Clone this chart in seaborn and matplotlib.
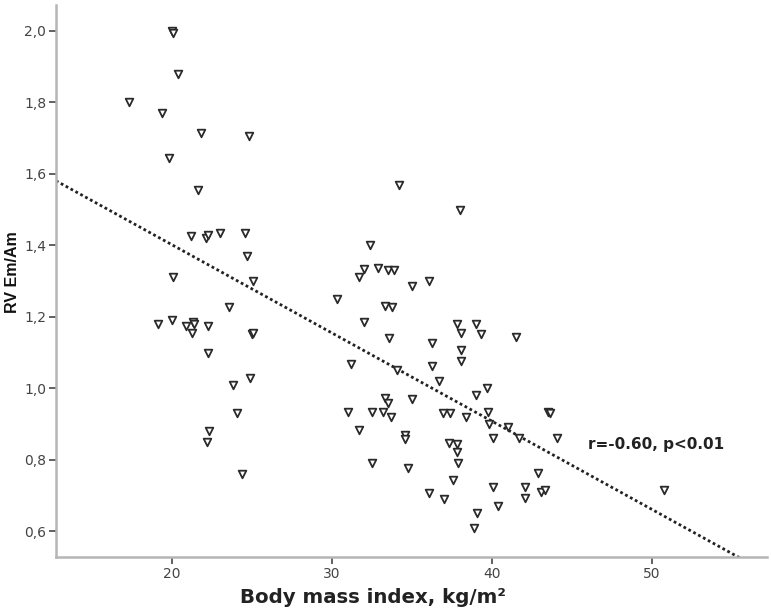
import numpy as np
import pandas as pd
import matplotlib
matplotlib.use("Agg")
import matplotlib.pyplot as plt
from matplotlib.ticker import FuncFormatter
import seaborn as sns

# points (BMI, RV Em/Am)
bmi = [17.3, 19.4, 20.0, 20.05, 20.4, 21.8, 24.8, 19.8, 21.6, 21.2, 22.1, 22.25,
       23.0, 24.6, 24.7, 20.05, 25.1, 19.1, 20.0, 20.9, 21.3, 21.35, 21.25, 22.25,
       22.25, 23.6, 25.0, 25.05, 23.8, 24.9, 24.1, 22.3, 22.2, 24.4,
       34.2, 38.0, 32.4, 32.0, 31.7, 32.9, 33.5, 33.9, 35.0, 36.1, 30.3, 33.3,
       33.75, 32.0, 33.6, 36.25, 31.2, 36.25, 34.05,
       37.8, 39.0, 38.06, 39.3, 41.5, 38.06, 38.1, 36.7, 39.7, 39.0,
       36.95, 37.4, 38.4, 39.75, 39.8, 41.0, 40.06, 41.7,
       33.3, 33.5, 35.0, 31.0, 32.5, 33.2, 33.7, 31.7, 34.6, 34.6, 37.3, 37.8,
       37.8, 37.9, 32.5, 34.75, 37.6, 36.1, 37.0,
       40.06, 40.4, 39.1, 38.9,
       43.5, 43.65, 44.06, 42.9, 42.1, 42.1, 43.06, 43.3, 50.75]
rv_ratio = [1.80, 1.77, 2.00, 1.995, 1.88, 1.715, 1.705, 1.645, 1.555, 1.427, 1.42, 1.43,
            1.435, 1.435, 1.37, 1.31, 1.30, 1.18, 1.19, 1.174, 1.185, 1.18, 1.155, 1.174,
            1.10, 1.227, 1.152, 1.155, 1.008, 1.03, 0.93, 0.88, 0.85, 0.76,
            1.57, 1.50, 1.40, 1.334, 1.31, 1.337, 1.33, 1.33, 1.287, 1.30, 1.25, 1.23,
            1.228, 1.185, 1.14, 1.126, 1.067, 1.062, 1.05,
            1.18, 1.18, 1.155, 1.152, 1.143, 1.107, 1.076, 1.02, 1.0, 0.98,
            0.93, 0.93, 0.92, 0.933, 0.90, 0.893, 0.86, 0.862,
            0.972, 0.96, 0.97, 0.935, 0.935, 0.933, 0.92, 0.882, 0.87, 0.857, 0.848, 0.843,
            0.823, 0.79, 0.79, 0.778, 0.744, 0.708, 0.69,
            0.725, 0.67, 0.65, 0.61,
            0.933, 0.93, 0.86, 0.764, 0.725, 0.694, 0.71, 0.716, 0.716]

# fit line as drawn in the reference
fit_intercept = 1.895
fit_slope = -0.02467

x_ticks = [20, 30, 40, 50]
y_ticks = [0.6, 0.8, 1.0, 1.2, 1.4, 1.6, 1.8, 2.0]
annotation = "r=-0.60, p<0.01"

df = pd.DataFrame({"bmi": bmi, "rv": rv_ratio})

sns.set_theme(style="white")
plt.rcParams['font.family'] = ['DejaVu Sans']

fig = plt.figure(figsize=(7.71, 6.15), dpi=100)
ax = fig.add_axes([0.0726, 0.0943, 0.922, 0.898])

xmin, xmax = 12.75, 57.2
ymin, ymax = 0.528, 2.073

# regression line, clipped by the axes
xs = np.array([xmin, xmax])
ax.plot(xs, fit_intercept + fit_slope * xs, color="#222222", lw=2.0,
        linestyle=(0, (1, 1)), zorder=2)

sns.scatterplot(data=df, x="bmi", y="rv", marker="v", s=30, color="white",
                edgecolor="#2a2a2a", linewidth=1.3, ax=ax, zorder=3)

ax.set_xlim(xmin, xmax)
ax.set_ylim(ymin, ymax)
ax.set_xticks(x_ticks)
ax.set_yticks(y_ticks)
ax.yaxis.set_major_formatter(FuncFormatter(lambda v, p: f"{v:.1f}".replace(".", ",")))

for side in ["top", "right"]:
    ax.spines[side].set_visible(False)
for side in ["left", "bottom"]:
    ax.spines[side].set_color("#b5b5b5")
    ax.spines[side].set_linewidth(1.8)

ax.tick_params(axis="both", which="major", direction="out", length=5, width=1.3,
               color="#555555", labelsize=10, labelcolor="#444444", pad=2,
               bottom=True, left=True)

ax.set_xlabel("Body mass index, kg/m²", fontsize=14.2, fontweight="bold",
              color="#222222")
ax.xaxis.set_label_coords(0.446, -0.056)
ax.set_ylabel("RV Em/Am", fontsize=11.5, fontweight="bold", color="#111111",
              family=["Liberation Sans", "DejaVu Sans"])
ax.yaxis.set_label_coords(-0.05, 0.516)

ax.text(46.0, 0.843, annotation, fontsize=11, fontweight="bold", color="#222222",
        va="center", ha="left", zorder=4,
        bbox=dict(facecolor="white", edgecolor="none", pad=1))

fig.savefig("out.png", dpi=100)
